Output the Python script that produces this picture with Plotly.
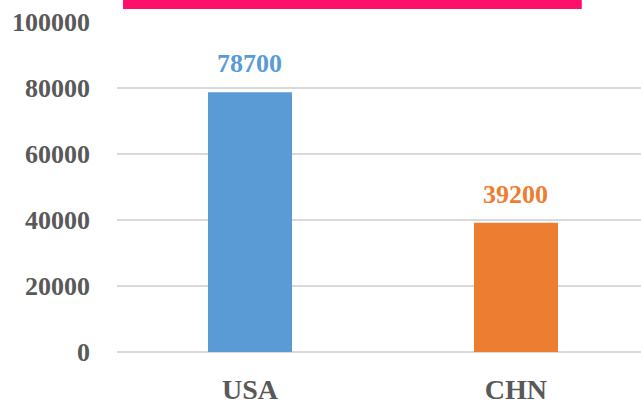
import plotly.graph_objects as go

categories = ["USA", "CHN"]
values = [78700, 39200]
bar_colors = ["#5B9BD5", "#ED7D31"]
y_ticks = [0, 20000, 40000, 60000, 80000, 100000]

FONT = "Liberation Serif"

fig = go.Figure()
fig.add_trace(go.Bar(
    x=categories, y=values,
    marker=dict(color=bar_colors, line=dict(width=0)),
    width=0.316,
    hoverinfo="skip",
))

for c, v, col in zip(categories, values, bar_colors):
    fig.add_annotation(
        x=c, y=v, text=f"<b>{v}</b>", showarrow=False,
        xref="x", yref="y", yanchor="bottom", yshift=12,
        font=dict(family=FONT, size=26, color=col),
    )

fig.add_shape(type="rect", xref="paper", yref="paper",
              x0=0.0115, x1=0.887, y0=1.0394, y1=1.08,
              fillcolor="#FF0F6C", line=dict(width=0), layer="above")

fig.update_layout(
    width=641, height=405,
    margin=dict(l=117, r=0, t=22, b=53, autoexpand=False),
    paper_bgcolor="white", plot_bgcolor="white",
    showlegend=False,
    font=dict(family=FONT, size=26, color="#595959"),
    xaxis=dict(
        range=[-0.5, 1.47], showgrid=False, zeroline=False, showline=False,
        ticks="", tickfont=dict(family=FONT, size=28, color="#595959", weight="bold"),
        ticklabelstandoff=18,
    ),
    yaxis=dict(
        range=[0, 100000], tickvals=y_ticks, ticktext=[str(t) for t in y_ticks],
        showgrid=True, gridcolor="#D9D9D9", gridwidth=2,
        zeroline=True, zerolinecolor="#D9D9D9", zerolinewidth=2,
        showline=False, ticks="",
        tickfont=dict(family=FONT, size=26, color="#595959", weight="bold"),
        ticklabelstandoff=26,
    ),
)

fig.write_html("out.html", config={"displayModeBar": False},
               post_script="document.body.style.margin='0';")
